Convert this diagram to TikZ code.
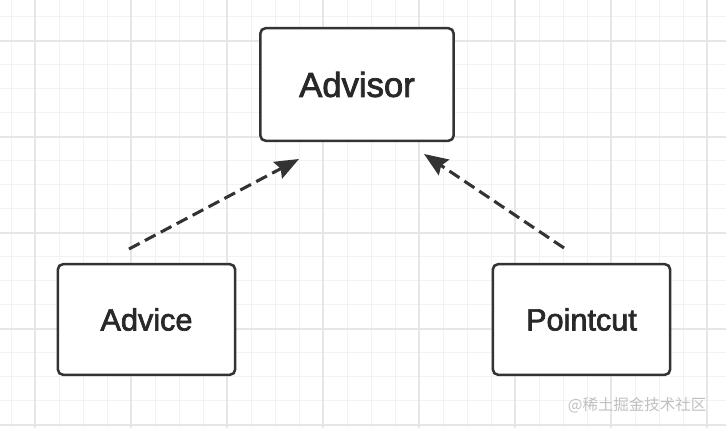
\documentclass[tikz,border=0pt]{standalone}
\usepackage{fontspec}
\setsansfont{Liberation Sans}
\newfontfamily\boxfont{Liberation Sans}[RawFeature={embolden=2.2}]
\newfontfamily\markfont{Noto Sans CJK SC}
\usetikzlibrary{arrows.meta}

\definecolor{aopGridMinor}{RGB}{242,242,242}
\definecolor{aopGridMajor}{RGB}{230,230,230}
\definecolor{aopBorder}{RGB}{51,51,51}
\definecolor{aopText}{RGB}{40,40,40}
\definecolor{aopMark}{RGB}{192,192,192}

\begin{document}
\begin{tikzpicture}[x=.75pt,y=.75pt,
      gridMinor/.style={draw=aopGridMinor, line width=.75pt},
      gridMajor/.style={draw=aopGridMajor, line width=1pt},
      box/.style={draw=aopBorder, fill=white, line width=1.9pt,
        rounded corners=4pt, text=aopText, inner sep=0pt,
        minimum width=133pt, minimum height=83pt,
        font=\boxfont\fontsize{23}{26}\selectfont},
      link/.style={draw=aopBorder, line width=2.3pt,
        dash pattern=on 9pt off 4.5pt,
        -{Stealth[length=18pt,width=14pt,inset=2.5pt]}},
      watermarkText/.style={font=\markfont\fontsize{11.6}{13}\selectfont,
        text=aopMark, anchor=east}]
      \useasboundingbox (0,0) rectangle (726,428);
      \fill[white] (0,0) rectangle (726,428);

      % background grid
      \foreach \gx in {11,35,...,707} \draw[gridMinor] (\gx,0) -- (\gx,428);
      \foreach \gy in {3,27,...,411} \draw[gridMinor] (0,\gy) -- (726,\gy);
      \foreach \gx in {35,131,...,707} \draw[gridMajor] (\gx,0) -- (\gx,428);
      \foreach \gy in {3,99,...,387} \draw[gridMajor] (0,\gy) -- (726,\gy);

      \node[box, minimum width=145pt, minimum height=84.5pt,
        font=\boxfont\fontsize{26}{29}\selectfont] (advisor) at (357,343.5) {Advisor};
      \node[box] (advice) at (146.5,108.5) {Advice};
      \node[box] (pointcut) at (581.5,108.5) {Pointcut};

      \coordinate (adviceTail) at (129,179);
      \coordinate (advisorLeftTip) at (299,269);
      \coordinate (pointcutTail) at (564,180);
      \coordinate (advisorRightTip) at (424,274);
      \draw[link] (adviceTail) -- (advisorLeftTip);
      \draw[link] (pointcutTail) -- (advisorRightTip);

      \node[watermarkText] (watermark) at (711,23) {@稀土掘金技术社区};
    \end{tikzpicture}
\end{document}
